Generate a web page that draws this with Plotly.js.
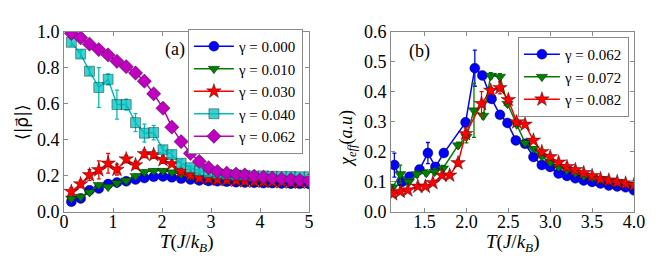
<!DOCTYPE html>
<html>
<head>
<meta charset="utf-8">
<script src="https://cdn.plot.ly/plotly-3.0.1.min.js"></script>
<style>
html,body{margin:0;padding:0;background:#fff;}
#chart{width:664px;height:257px;}
</style>
</head>
<body>
<div id="chart"></div>
<script>
// ---------- Panel (a) data ----------
const tA = [0.15,0.34,0.52,0.71,0.90,1.08,1.27,1.46,1.64,1.83,2.02,2.20,2.39,2.58,2.76,2.95,3.13,3.32,3.51,3.69,3.88,4.07,4.25,4.44,4.63,4.81,5.00];
const rho000 = [0.057,0.075,0.12,0.13,0.155,0.163,0.17,0.18,0.188,0.195,0.197,0.192,0.185,0.18,0.175,0.172,0.17,0.168,0.165,0.163,0.162,0.16,0.16,0.158,0.157,0.156,0.155];
const rho010 = [0.075,0.085,0.11,0.15,0.14,0.16,0.175,0.2,0.222,0.228,0.228,0.22,0.21,0.2,0.19,0.185,0.18,0.178,0.175,0.172,0.17,0.168,0.167,0.166,0.165,0.165,0.165];
const rho030 = [0.113,0.155,0.205,0.233,0.27,0.235,0.293,0.26,0.322,0.317,0.289,0.267,0.225,0.205,0.19,0.185,0.18,0.178,0.175,0.172,0.17,0.17,0.168,0.167,0.165,0.165,0.165];
const rho040 = [0.94,0.875,0.78,0.69,0.735,0.595,0.595,0.495,0.437,0.44,0.345,0.318,0.27,0.245,0.228,0.218,0.212,0.208,0.205,0.203,0.2,0.2,0.198,0.197,0.196,0.195,0.195];
const rho062 = [0.99,0.965,0.93,0.90,0.87,0.835,0.805,0.77,0.725,0.655,0.575,0.47,0.39,0.325,0.28,0.245,0.225,0.215,0.21,0.205,0.198,0.193,0.188,0.183,0.18,0.177,0.175];
const err000 = [0.005,0.005,0.005,0.005,0.005,0.005,0.005,0.005,0.005,0.005,0.005,0.005,0.005,0.005,0.005,0.005,0.005,0.005,0.005,0.005,0.005,0.005,0.005,0.005,0.005,0.005,0.005];
const err010 = [0.01,0.01,0.01,0.01,0.01,0.01,0.01,0.01,0.01,0.01,0.01,0.005,0.005,0.005,0.005,0.005,0.005,0.005,0.005,0.005,0.005,0.005,0.005,0.005,0.005,0.005,0.005];
const err030 = [0.02,0.02,0.03,0.05,0.055,0.03,0.02,0.02,0.02,0.02,0.02,0.01,0.01,0.01,0.01,0.01,0.005,0.005,0.005,0.005,0.005,0.005,0.005,0.005,0.005,0.005,0.005];
const err040 = [0.02,0.02,0.02,0.11,0.03,0.08,0.03,0.05,0.05,0.04,0.02,0.02,0.02,0.01,0.01,0.01,0.005,0.005,0.005,0.005,0.005,0.005,0.005,0.005,0.005,0.005,0.005];
const err062 = [0.005,0.005,0.005,0.005,0.005,0.005,0.005,0.005,0.005,0.005,0.005,0.005,0.005,0.005,0.005,0.005,0.005,0.005,0.005,0.005,0.005,0.005,0.005,0.005,0.005,0.005,0.005];
const labelsA = ["γ = 0.000","γ = 0.010","γ = 0.030","γ = 0.040","γ = 0.062"];

// ---------- Panel (b) data ----------
const tB062 = [1.14,1.23,1.32,1.44,1.54,1.63,1.73,1.99,2.10,2.19,2.30,2.40,2.49,2.59,2.70,2.80,2.90,3.00,3.10,3.20,3.30,3.40,3.50,3.60,3.70,3.80,3.90,4.00];
const chi062 = [0.156,0.10,0.117,0.141,0.196,0.15,0.196,0.298,0.478,0.454,0.376,0.323,0.296,0.238,0.227,0.183,0.156,0.15,0.128,0.12,0.112,0.105,0.1,0.095,0.088,0.085,0.082,0.072];
const eB062 = [0.04,0.01,0.01,0.01,0.035,0.01,0.01,0.01,0.06,0.01,0.01,0.01,0.005,0.005,0.005,0.005,0.005,0.005,0.005,0.005,0.005,0.005,0.005,0.005,0.005,0.005,0.005,0.005];
const tB072 = [1.12,1.21,1.31,1.41,1.52,1.62,1.72,1.90,2.00,2.09,2.20,2.29,2.40,2.49,2.60,2.70,2.80,2.90,3.00,3.10,3.20,3.30,3.40,3.50,3.60,3.70,3.80,3.90,4.00];
const chi072 = [0.082,0.126,0.10,0.126,0.13,0.134,0.145,0.222,0.25,0.338,0.32,0.453,0.45,0.36,0.291,0.23,0.21,0.185,0.165,0.15,0.14,0.13,0.12,0.115,0.11,0.105,0.1,0.095,0.09];
const eB072 = [0.01,0.03,0.01,0.01,0.01,0.01,0.01,0.01,0.02,0.09,0.01,0.01,0.01,0.01,0.005,0.005,0.005,0.005,0.005,0.005,0.005,0.005,0.005,0.005,0.005,0.005,0.005,0.005,0.005];
const tB082 = [1.12,1.21,1.30,1.42,1.51,1.60,1.71,1.80,1.90,1.99,2.18,2.29,2.40,2.50,2.60,2.70,2.80,2.90,3.00,3.10,3.20,3.30,3.40,3.50,3.60,3.70,3.80,3.90,4.00];
const chi082 = [0.06,0.068,0.073,0.085,0.085,0.097,0.122,0.122,0.163,0.26,0.36,0.404,0.413,0.373,0.299,0.291,0.238,0.2,0.183,0.165,0.15,0.14,0.13,0.12,0.11,0.105,0.1,0.095,0.09];
const eB082 = [0.005,0.005,0.005,0.005,0.005,0.005,0.005,0.005,0.01,0.02,0.04,0.01,0.02,0.01,0.01,0.005,0.005,0.005,0.005,0.005,0.005,0.005,0.005,0.005,0.005,0.005,0.005,0.005,0.005];
const labelsB = ["γ = 0.062","γ = 0.072","γ = 0.082"];

const edge = {color:'rgba(0,0,0,0.55)', width:0.7};
function tr(x,y,e,name,color,fill,symbol,size,xa,ya,leg){
  return {
    x:x, y:y, name:name, type:'scatter', mode:'lines+markers',
    xaxis:xa, yaxis:ya, legend:leg, cliponaxis:true,
    line:{color:color, width:1.5},
    marker:{color:fill, symbol:symbol, size:size, line:edge},
    error_y:{type:'data', array:e, visible:true, color:color, thickness:1.3, width:2}
  };
}

const data = [
  tr(tA,rho000,err000,labelsA[0],'#0000ff','#0000ff','circle',10,'x','y','legend'),
  tr(tA,rho010,err010,labelsA[1],'#007f00','#007f00','triangle-down',10,'x','y','legend'),
  tr(tA,rho030,err030,labelsA[2],'#ff0000','#ff0000','star',11,'x','y','legend'),
  tr(tA,rho040,err040,labelsA[3],'#00bfbf','rgba(0,191,191,0.75)','square',10,'x','y','legend'),
  tr(tA,rho062,err062,labelsA[4],'#bf00bf','#bf00bf','diamond',11,'x','y','legend'),
  tr(tB062,chi062,eB062,labelsB[0],'#0000ff','#0000ff','circle',10,'x2','y2','legend2'),
  tr(tB072,chi072,eB072,labelsB[1],'#007f00','#007f00','triangle-down',10,'x2','y2','legend2'),
  tr(tB082,chi082,eB082,labelsB[2],'#ff0000','#ff0000','star',11,'x2','y2','legend2')
];

const serif = "Liberation Serif";
const axBase = {
  showline:true, linecolor:'#8a8a8a', linewidth:1, mirror:'ticks',
  ticks:'inside', ticklen:4, tickcolor:'#8a8a8a', showgrid:false, zeroline:false,
  tickfont:{family:serif, size:18, color:'#000'}
};
const xTitleText = '<i>T</i>(<i>J</i>/<i>k</i><sub><i>B</i></sub>)';
const tf = {family:serif, size:18, color:'#000'};
const xtf = {family:serif, size:19, color:'#000'};

const layout = {
  width:664, height:257,
  margin:{l:0,r:0,t:0,b:0},
  paper_bgcolor:'#fff', plot_bgcolor:'#fff',
  font:{family:serif, color:'#000'},
  showlegend:true,
  xaxis:Object.assign({}, axBase, {domain:[0.0964,0.4654], range:[0,5], dtick:1, tick0:0, anchor:'y', ticklabelstandoff:-7}),
  yaxis:Object.assign({}, axBase, {domain:[0.1751,0.8774], range:[0,1], dtick:0.2, tickformat:'.1f', anchor:'x'}),
  xaxis2:Object.assign({}, axBase, {domain:[0.5889,0.9548], range:[1.1,4.0], dtick:0.5, tick0:1.5, tickformat:'.1f', anchor:'y2', ticklabelstandoff:-7}),
  yaxis2:Object.assign({}, axBase, {domain:[0.1751,0.8774], range:[0,0.6], dtick:0.1, tickformat:'.1f', anchor:'x2'}),
  legend:{x:0.283, y:(257-29)/257, xanchor:'left', yanchor:'top', bgcolor:'#fff', bordercolor:'#8a8a8a', borderwidth:1,
    font:{family:serif, size:15, color:'#000'}, tracegroupgap:0, itemwidth:40},
  legend2:{x:0.780, y:(257-37)/257, xanchor:'left', yanchor:'top', bgcolor:'#fff', bordercolor:'#8a8a8a', borderwidth:1,
    font:{family:serif, size:15, color:'#000'}, tracegroupgap:0, itemwidth:36},
  annotations:[
    {text:'(a)', xref:'paper', yref:'paper', x:175/664, y:(257-50)/257, xanchor:'center', yanchor:'middle', showarrow:false, font:tf},
    {text:'(b)', xref:'paper', yref:'paper', x:419/664, y:(257-52)/257, xanchor:'center', yanchor:'middle', showarrow:false, font:tf},
    {text:xTitleText, xref:'paper', yref:'paper', x:186.5/664, y:(257-243)/257, xanchor:'center', yanchor:'middle', showarrow:false, font:xtf},
    {text:xTitleText, xref:'paper', yref:'paper', x:512.5/664, y:(257-243)/257, xanchor:'center', yanchor:'middle', showarrow:false, font:xtf},
    {text:'⟨|ρ⃗|⟩', xref:'paper', yref:'paper', x:22/664, y:(257-122)/257, xanchor:'center', yanchor:'middle', showarrow:false, textangle:-90,
      font:{family:"DejaVu Sans", size:17, color:'#000'}},
    {text:'<i>χ</i><sub><i>eff</i></sub>(<i>a.u</i>)', xref:'paper', yref:'paper', x:347/664, y:(257-138)/257, xanchor:'center', yanchor:'middle', showarrow:false, textangle:-90, font:tf}
  ]
};

Plotly.newPlot('chart', data, layout, {displayModeBar:false, staticPlot:true});
</script>
</body>
</html>
